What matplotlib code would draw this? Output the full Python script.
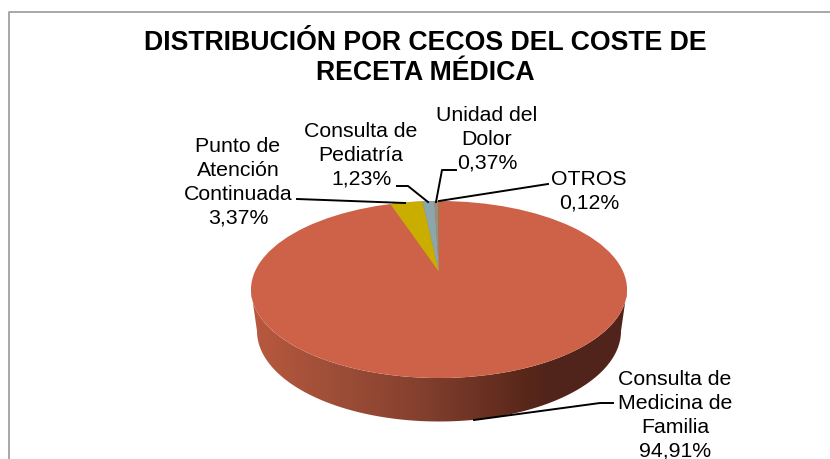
#!/usr/bin/env python3
import numpy as np
import matplotlib
matplotlib.use('Agg')
import matplotlib.pyplot as plt
from matplotlib.colors import LinearSegmentedColormap
from matplotlib.patches import Polygon, Ellipse

plt.rcParams['font.family'] = ['Liberation Sans', 'DejaVu Sans']

# datos, en sentido horario desde arriba
categories = ['Consulta de\nMedicina de\nFamilia', 'Punto de\nAtención\nContinuada',
              'Consulta de\nPediatría', 'Unidad del\nDolor', 'OTROS']
values = [94.91, 3.37, 1.23, 0.37, 0.12]
colors = ['#CD6248', '#C9AE00', '#8AA8AC', '#A08C7C', '#7F8A55']
title = 'DISTRIBUCIÓN POR CECOS DEL COSTE DE\nRECETA MÉDICA'

CX, CY, RX, RY = 439, 289.5, 188, 88.5
PERSP = 0.2  # el centro de la tarta queda desplazado hacia arriba por la perspectiva


def rim(theta):
    """Punto del borde para un angulo real (0 = arriba, sentido horario)."""
    u, v = np.sin(theta), np.cos(theta)
    d = 1 + PERSP * v
    x = u * np.sqrt(1 - PERSP**2) / d
    y = (v + PERSP) / d
    return np.column_stack([CX + RX * x, CY - RY * y])


fig = plt.figure(figsize=(8.3, 4.59), dpi=100)
ax = fig.add_axes([0, 0, 1, 1])
ax.set_xlim(0, 830)
ax.set_ylim(459, 0)
ax.axis('off')

# marco del grafico
ax.plot([9, 9, 830], [459, 12, 12], color='#A0A0A0', lw=1.3, zorder=1)

# pared lateral con degradado
t = np.linspace(0, np.pi, 200)
top_x, top_y = CX - RX * np.cos(t), CY + RY * np.sin(t)
low_x, low_y = CX + 182 * np.cos(t), 331 + 90.5 * np.sin(t)
side = Polygon(np.column_stack([np.r_[top_x, low_x], np.r_[top_y, low_y]]),
               closed=True, transform=ax.transData, facecolor='none', edgecolor='none')
ax.add_patch(side)
cmap = LinearSegmentedColormap.from_list('wall', [(0, '#B9593F'), (0.2, '#A04F38'), (0.45, '#84402E'),
                                                  (0.72, '#5A281B'), (0.8, '#50241A'), (1, '#50241A')])
img = ax.imshow(np.linspace(0, 1, 400)[None, :], extent=[CX - RX, CX + RX, 425, 285], cmap=cmap,
                aspect='auto', zorder=2)
img.set_clip_path(side)
ax.set_xlim(0, 830)
ax.set_ylim(459, 0)

# cara superior
ax.add_patch(Ellipse((CX, CY), 2 * RX, 2 * RY, facecolor=colors[0], edgecolor='none', zorder=3))
apex = np.array([[CX, CY - RY * PERSP]])
edges = np.cumsum([0] + values) / 100 * 2 * np.pi
for i in range(1, len(values)):
    arc = rim(np.linspace(edges[i], edges[i + 1], 12))
    ax.add_patch(Polygon(np.vstack([apex, arc]), closed=True, facecolor=colors[i],
                         edgecolor='none', zorder=4))

# titulo
ax.text(425.5, 58, title, ha='center', va='center', fontsize=19.2, fontweight='bold',
        linespacing=1.23, color='black', zorder=6)

# etiquetas
labels = [f'{c}\n{v:.2f}%'.replace('.', ',') for c, v in zip(categories, values)]
label_pos = [(675, 415.5), (238, 182.5), (361, 155.5), (487, 139.5), (589, 191.5)]
leaders = [
    ([613, 600, 474], [403, 403, 420]),
    ([297, 405], [199, 203]),
    ([397, 408, 428], [186, 186, 202]),
    ([456, 442, 436], [170, 170, 202]),
    ([548, 439], [184, 201]),
]
for label, (x, y), (lx, ly) in zip(labels, label_pos, leaders):
    ax.plot(lx, ly, color='black', lw=1.4, zorder=5, solid_joinstyle='round')
    ax.text(x, y, label, ha='center', va='center', fontsize=15.3, linespacing=1.33,
            color='black', zorder=6)

fig.savefig('out.png', dpi=100)
plt.close(fig)
